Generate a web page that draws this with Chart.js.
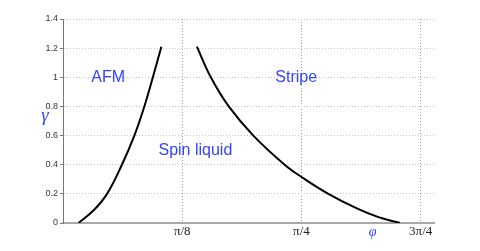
<!DOCTYPE html>
<html>
<head>
<meta charset="utf-8">
<script src="https://cdn.jsdelivr.net/npm/chart.js@4/dist/chart.umd.min.js"></script>
<style>
  html, body { margin: 0; padding: 0; background: #fff; }
  #wrap { width: 480px; height: 251px; }
</style>
</head>
<body>
<div id="wrap"><canvas id="phase"></canvas></div>
<script>
// boundary AFM / spin liquid
var afmX = [0.051, 0.101, 0.145, 0.194, 0.235, 0.268, 0.296, 0.324];
var afmY = [0, 0.087, 0.2, 0.4, 0.6, 0.8, 1.0, 1.21];
// boundary spin liquid / stripe
var stripeX = [0.441, 0.487, 0.546, 0.627, 0.730, 0.787, 0.874, 0.968, 1.039, 1.110];
var stripeY = [1.21, 1.0, 0.8, 0.6, 0.4, 0.314, 0.2, 0.1, 0.04, 0];

var xTickValues = [Math.PI / 8, Math.PI / 4, 3 * Math.PI / 8];
var xTickLabels = ["π/8", "π/4", "3π/4"];
var yTickValues = [0, 0.2, 0.4, 0.6, 0.8, 1, 1.2, 1.4];

// region names, placed in data coordinates
var regionNames = ["AFM", "Stripe", "Spin liquid"];
var regionX = [0.149, 0.768, 0.436];
var regionY = [1.0, 1.0, 0.5];

function toPoints(xs, ys) {
  var pts = [];
  for (var i = 0; i < xs.length; i++) pts.push({ x: xs[i], y: ys[i] });
  return pts;
}

var blue = "rgb(51, 68, 255)";

const labelsPlugin = {
  id: "labels",
  afterDatasetsDraw(chart) {
    const ctx = chart.ctx;
    const xs = chart.scales.x, ys = chart.scales.y;
    const area = chart.chartArea;
    ctx.save();
    ctx.fillStyle = blue;
    ctx.textAlign = "center";
    ctx.textBaseline = "middle";
    ctx.font = "16px 'Liberation Sans', Arial, sans-serif";
    regionNames.forEach((name, i) => {
      ctx.fillText(name, xs.getPixelForValue(regionX[i]), ys.getPixelForValue(regionY[i]));
    });
    // axis symbols
    ctx.font = "italic 19px 'Liberation Serif', 'DejaVu Serif', serif";
    ctx.fillText("γ", area.left - 18, ys.getPixelForValue(0.75) + 2);
    ctx.font = "italic 14px 'Liberation Serif', 'DejaVu Serif', serif";
    ctx.fillText("φ", xs.getPixelForValue(1.02), area.bottom + 9);
    ctx.restore();
  }
};

const config = {
  type: "scatter",
  data: {
    datasets: [
      {
        data: toPoints(afmX, afmY),
        showLine: true,
        borderColor: "#000",
        borderWidth: 2,
        pointRadius: 0,
        tension: 0.4,
      },
      {
        data: toPoints(stripeX, stripeY),
        showLine: true,
        borderColor: "#000",
        borderWidth: 2,
        pointRadius: 0,
        tension: 0.4,
      },
    ],
  },
  options: {
    responsive: true,
    maintainAspectRatio: false,
    animation: false,
    layout: { padding: { top: 19, right: 46, left: 0, bottom: 0 } },
    plugins: { legend: { display: false }, tooltip: { enabled: false } },
    scales: {
      x: {
        type: "linear",
        min: 0,
        max: 1.222,
        afterBuildTicks: (scale) => {
          scale.ticks = xTickValues.map((v) => ({ value: v }));
        },
        afterFit: (scale) => { scale.height = 28; },
        ticks: {
          padding: 1,
          maxRotation: 0,
          color: "#222",
          font: { family: "'Liberation Serif', 'DejaVu Serif', serif", size: 13 },
          callback: (v, i) => xTickLabels[i],
        },
        grid: { color: "#9a9a9a", lineWidth: 1, drawTicks: false },
        border: { color: "#a8a8a8", width: 2, dash: [1, 2] },
      },
      y: {
        min: 0,
        max: 1.4,
        afterBuildTicks: (scale) => {
          scale.ticks = yTickValues.map((v) => ({ value: v }));
        },
        afterFit: (scale) => { scale.width = 63; },
        ticks: {
          padding: 2,
          color: "#333",
          font: { family: "'Liberation Sans', Arial, sans-serif", size: 9 },
          callback: (v) => String(Math.round(v * 10) / 10),
        },
        grid: { color: "#c4c4c4", lineWidth: 1, tickLength: 3, tickColor: "#777" },
        border: { color: "#777", width: 1, dash: [1, 2] },
      },
    },
  },
  plugins: [labelsPlugin],
};

new Chart(document.getElementById("phase"), config);
</script>
</body>
</html>
